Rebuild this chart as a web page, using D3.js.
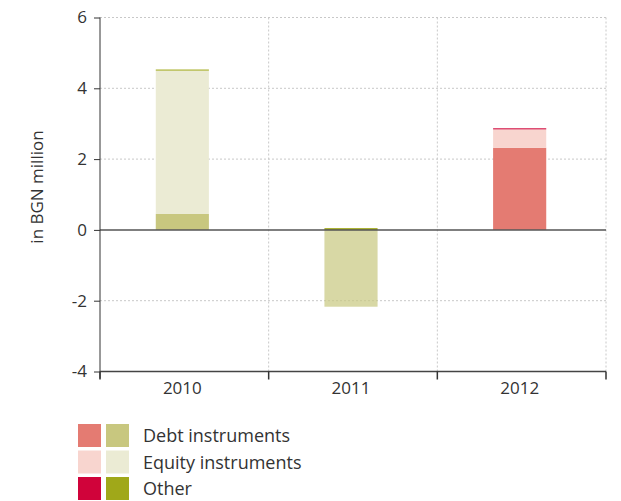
<!DOCTYPE html>
<html><head><meta charset="utf-8">
<script src="https://cdn.jsdelivr.net/npm/d3@7"></script>
<style>body{margin:0;background:#fff}svg{display:block}text{font-family:"Open Sans","Liberation Sans",sans-serif;font-weight:400;fill:#333}</style>
</head><body><svg id="c" width="621" height="501"></svg>
<script>
const years = ["2010", "2011", "2012"];
const debt = [0.45, -2.17, 2.32];
const equity = [4.05, 0, 0.52];
const other = [0.03, 0.05, 0.03];
const yTicks = [-4, -2, 0, 2, 4, 6];
const seriesNames = ["Debt instruments", "Equity instruments", "Other"];
// colour pairs: [red palette, olive palette]
const colorsRed = ["#e47b72", "#f8d5cf", "#d0033a"];
const colorsOlive = ["#c8c77f", "#ebebd4", "#a0a819"];
const barPalette = ["olive", "olive", "red"];

const svg = d3.select("#c");
const x = d3.scaleBand().domain(years).range([100, 606]).paddingInner(0.685).paddingOuter(0.3425);
const y = d3.scaleLinear().domain([-4, 6]).range([371.5, 17.5]);

// grid
svg.append("g").selectAll("line").data(yTicks.filter(d => d !== 0 && d !== -4)).join("line")
  .attr("x1", 100).attr("x2", 606).attr("y1", d => y(d)).attr("y2", d => y(d))
  .attr("stroke", "#c8c8c8").attr("stroke-dasharray", "2,2");
const bounds = [x.step(), 2 * x.step(), 3 * x.step()].map(v => 100 + v);
svg.append("g").selectAll("line").data(bounds).join("line")
  .attr("x1", d => d).attr("x2", d => d).attr("y1", y(6)).attr("y2", y(-4))
  .attr("stroke", "#c8c8c8").attr("stroke-dasharray", "2,2");

// bars
const seriesVals = [debt, equity, other];
years.forEach((yr, i) => {
  let pos = 0, neg = 0;
  const pal = barPalette[i] === "red" ? colorsRed : colorsOlive;
  seriesVals.forEach((arr, s) => {
    const v = arr[i];
    if (!v) return;
    let y0, y1;
    if (v >= 0) { y0 = pos; y1 = pos + v; pos = y1; } else { y0 = neg; y1 = neg + v; neg = y1; }
    svg.append("rect")
      .attr("x", x(yr) - 2).attr("width", x.bandwidth())
      .attr("y", y(Math.max(y0, y1))).attr("height", Math.abs(y(y0) - y(y1)))
      .attr("fill", pal[s]).attr("fill-opacity", v < 0 ? 0.7 : 1);
  });
});

// zero line
svg.append("line").attr("x1", 100).attr("x2", 606).attr("y1", y(0)).attr("y2", y(0))
  .attr("stroke", "#555").attr("stroke-width", 1.5);

// y axis
const ya = svg.append("g").attr("transform", "translate(100,0)")
  .call(d3.axisLeft(y).tickValues(yTicks).tickSize(6).tickPadding(7).tickFormat(d => String(d)));
ya.select(".domain").attr("d", `M0,${y(6)}V${y(-4) + 7}`).attr("stroke", "#333");
ya.selectAll(".tick line").attr("stroke", "#333");
ya.selectAll("text").style("font-size", "17px").attr("fill", "#333");

// x axis
const xa = svg.append("g").attr("transform", `translate(0,${y(-4)})`)
  .call(d3.axisBottom(x).tickSize(0).tickPadding(10));
xa.selectAll(".tick").attr("transform", d => `translate(${x(d) + x.bandwidth() / 2 - 2},0)`);
xa.select(".domain").attr("d", "M100,0H606").attr("stroke", "#444").attr("stroke-width", 1.5);
xa.selectAll("text").style("font-size", "17px").attr("fill", "#333");
svg.append("g").selectAll("line").data([100, ...bounds]).join("line")
  .attr("x1", d => d).attr("x2", d => d).attr("y1", y(-4)).attr("y2", y(-4) + 8)
  .attr("stroke", "#333").attr("stroke-width", 1.5);

// y label
svg.append("text").attr("transform", "translate(43,187) rotate(-90)")
  .attr("text-anchor", "middle").style("font-size", "17px").text("in BGN million");

// legend
const lg = svg.append("g").attr("transform", "translate(78,424)");
seriesNames.forEach((n, i) => {
  const gy = i * 26.5;
  lg.append("rect").attr("x", 0).attr("y", gy).attr("width", 23).attr("height", 23).attr("fill", colorsRed[i]);
  lg.append("rect").attr("x", 28).attr("y", gy).attr("width", 23).attr("height", 23).attr("fill", colorsOlive[i]);
  lg.append("text").attr("x", 65).attr("y", gy + 18).style("font-size", "18px").text(n);
});
</script></body></html>
